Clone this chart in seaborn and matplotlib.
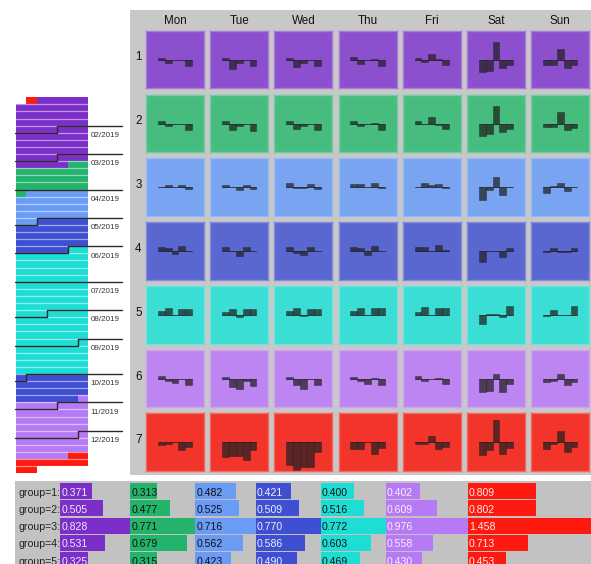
import numpy as np
import pandas as pd
import matplotlib
matplotlib.use("Agg")
import matplotlib.pyplot as plt
from matplotlib.colors import ListedColormap, to_rgb
from matplotlib.patches import Rectangle
import seaborn as sns

# ---------------------------------------------------------------- data
days = ["Mon", "Tue", "Wed", "Thu", "Fri", "Sat", "Sun"]
clusters = [1, 2, 3, 4, 5, 6, 7]
time_groups = ["group=1:", "group=2:", "group=3:", "group=4:", "group=5:"]

# day clusters over 2019: each run starts on the given date
run_starts = ["2019-01-01", "2019-01-02", "2019-03-09", "2019-04-02",
              "2019-05-01", "2019-06-01", "2019-09-30", "2019-10-27",
              "2019-12-21"]
run_clusters = [7, 1, 2, 3, 4, 5, 4, 6, 7]

# deviation of each time group from the cluster profile, per weekday (Mon..Sun)
dev_c1 = [[2, -3.3, -0.3, 0, -6], [2, -9, -3, -0.5, -6.5], [2, -7.5, -3, -0.3, -6.5],
          [2.5, -4, 0, 0.3, -6], [1.5, -2, 5.5, 0.5, -5.5], [-12.5, -11, 17.5, -8.5, -5.5],
          [-5, -5, 11, -8, -5]]
dev_c2 = [[3, -2, 0, 0, -6], [2.5, -6.5, -2, 0, -7.5], [3, -5, -2, 0, -6.5],
          [3, -2, 0, 0.5, -6], [2.5, -0.5, 7, -1, -5], [-12.5, -10, 18, -8.3, -5.7],
          [-3.5, -3.5, 11.5, -6.5, -4.3]]
dev_c3 = [[0, 2.5, 0, 2, -1.5], [2, 0, -3, 2, -2], [4, -0.5, -0.5, 3, -2],
          [3.5, 3, 0, 4, -0.5], [0, 4, 2.5, 3.5, -0.5], [-13, -3, 10, -8, 0],
          [-5.3, 1, 4.7, -4, 0]]
dev_c4 = [[4.5, 3.5, -2.5, 5, 0], [4.5, 0, -4.5, 4.5, 0], [4.5, -1.5, -4, 4.5, 0],
          [4, 3.5, -4, 5, 0], [4, 4.5, 0, 6, 1.5], [-10.5, 0.5, 0, -5.5, 2.7],
          [-1.3, 2.7, -0.5, -0.5, 2.7]]
dev_c5 = [[3.5, 7, 0, 6.3, 6.3], [3, 6, -2.5, 6, 6], [3.5, 7, -1.5, 6, 6],
          [3.5, 7, -0.5, 6.5, 6.5], [3, 8, 0, 7, 7], [-9.5, 1, 0.5, -2.5, 8.5],
          [-1.5, 5, 0, 0, 9]]
dev_c6 = [[2.5, -2, -4, 0, -6], [2, -8, -10, -2, -7], [2, -6, -10, 0, -6],
          [2, -2.5, -5, 0.5, -6], [2.3, -2, -0.3, 0.7, -5.5], [-13.5, -12.5, 4.5, -13, -5],
          [-3, -2, 4.5, -6.5, -3.5]]
dev_c7 = [[-3, -2, 0, -7.7, -4.3], [-14.5, -13.5, -13.5, -18, -8], [-22.7, -27.7, -24.3, -24.3, -10],
          [-6.5, -6.5, 0, -12, -5.5], [-2, -2, 6, -7, -4.5], [-13, -8, 22, -12, -5.5],
          [-7, -2, 11, -9.5, -4.5]]
deviations = [dev_c1, dev_c2, dev_c3, dev_c4, dev_c5, dev_c6, dev_c7]

# mean value of each time group within each cluster
means_c1 = [0.371, 0.505, 0.828, 0.531, 0.325]
means_c2 = [0.313, 0.477, 0.771, 0.679, 0.315]
means_c3 = [0.482, 0.525, 0.716, 0.562, 0.423]
means_c4 = [0.421, 0.509, 0.770, 0.586, 0.490]
means_c5 = [0.400, 0.516, 0.772, 0.603, 0.469]
means_c6 = [0.402, 0.609, 0.976, 0.558, 0.430]
means_c7 = [0.809, 0.802, 1.458, 0.713, 0.453]
group_means = [means_c1, means_c2, means_c3, means_c4, means_c5, means_c6, means_c7]

# ---------------------------------------------------------------- styling
cluster_colors = ["#7B2FC8", "#23B36B", "#6A9BF5", "#3F4FD2", "#1EDDD5", "#B77AF5", "#FF1A0F"]
cell_colors = ["#8C4FCD", "#46BC7E", "#79A4F2", "#5A67D0", "#3ADED4", "#BD85F2", "#F2342A"]
value_text_colors = ["#F0E8FF", "#111111", "#111111", "#F0F0FF", "#111111", "#F8F0FF", "#FFF0F0"]
panel_gray = "#C8C8C8"
mark_color = "#202020"

sns.set_theme(style="white")
plt.rcParams["font.family"] = ["Liberation Sans", "DejaVu Sans"]

W, H = 591, 564
fig = plt.figure(figsize=(W / 100, H / 100), dpi=100)


def frac(left, top, width, height):
    return [left / W, 1 - (top + height) / H, width / W, height / H]


def fig_rect(left, top, width, height, color):
    r = Rectangle((left / W, 1 - (top + height) / H), width / W, height / H,
                  transform=fig.transFigure, facecolor=color, edgecolor="none", zorder=-10)
    fig.add_artist(r)


def lighten(c, k):
    r, g, b = to_rgb(c)
    return (r + (1 - r) * k, g + (1 - g) * k, b + (1 - b) * k)


# ---------------------------------------------------------------- calendar strip
dates = pd.date_range("2019-01-01", "2019-12-31", freq="D")
starts = pd.to_datetime(run_starts)
day_cluster = np.array(run_clusters)[np.searchsorted(starts.values, dates.values, side="right") - 1]
first_wd = dates[0].weekday()
offsets = np.arange(len(dates)) + first_wd
n_weeks = offsets[-1] // 7 + 1
cal = np.full((n_weeks, 7), np.nan)
cal[offsets // 7, offsets % 7] = day_cluster

cal_left, cal_top, cal_w, cal_h = 16, 97.3, 72.5, 376.0
ax_cal = fig.add_axes(frac(cal_left, cal_top, cal_w, cal_h))
sns.heatmap(cal, ax=ax_cal, cmap=ListedColormap(cluster_colors), vmin=0.5, vmax=7.5,
            cbar=False, xticklabels=False, yticklabels=False, mask=np.isnan(cal))
for w in range(1, n_weeks):
    ax_cal.plot([0, 7], [w, w], color="white", alpha=0.5, lw=0.9)

x_unit = 7 / cal_w  # data units per pixel
for m in range(2, 13):
    first = pd.Timestamp(2019, m, 1)
    off = first.dayofyear - 1 + first_wd
    wk, wd = off // 7, off % 7
    right = 7 + (122 - cal_left - cal_w) * x_unit
    if wd > 0:
        xs, ys = [-1 * x_unit, wd, wd, right], [wk + 1, wk + 1, wk, wk]
    else:
        xs, ys = [-1 * x_unit, right], [wk, wk]
    ax_cal.plot(xs, ys, color="#2A2A2A", lw=1.0, clip_on=False)
    ax_cal.text(7 + 2 * x_unit, wk + 1.6, f"{m:02d}/2019", fontsize=5.8,
                color="#333333", va="baseline", ha="left", clip_on=False)

# ---------------------------------------------------------------- cluster x weekday grid
fig_rect(130, 10, 461, 465, panel_gray)
col_left0, col_pitch, cell_w = 146, 64.2, 58
row_top0, row_pitch, cell_h = 30.7, 63.8, 57.6

for j, d in enumerate(days):
    fig.text((col_left0 + j * col_pitch + cell_w / 2) / W, 1 - 24 / H, d,
             ha="center", va="baseline", fontsize=8.4, color="#111111")

for i, c in enumerate(clusters):
    top = row_top0 + i * row_pitch
    fig.text(138.3 / W, 1 - (top + cell_h / 2 + 1) / H, str(c),
             ha="center", va="baseline", fontsize=8.4, color="#111111")
    for j in range(len(days)):
        ax = fig.add_axes(frac(col_left0 + j * col_pitch, top, cell_w, cell_h))
        vals = deviations[i][j]
        sns.barplot(x=list(range(len(vals))), y=vals, ax=ax, color=mark_color,
                    saturation=1, width=1.0, alpha=0.72, errorbar=None,
                    edgecolor=mark_color, linewidth=0.4)
        ax.plot([-0.5, len(vals) - 0.5], [0, 0], color=mark_color, alpha=0.6, lw=0.7)
        ax.set_facecolor(cell_colors[i])
        ax.set_xlim(-2.21, 6.21)
        ax.set_ylim(-28.6, 29.0)
        ax.set_xticks([])
        ax.set_yticks([])
        ax.set_xlabel("")
        ax.set_ylabel("")
        for s in ax.spines.values():
            s.set_visible(True)
            s.set_color(lighten(cell_colors[i], 0.25))
            s.set_linewidth(1.0)

# ---------------------------------------------------------------- group means panel
fig_rect(15, 481, 576, 90, "#C2C2C2")
bar_x0 = 60.3
col_max = [max(v) for v in group_means]
px_per_unit = (W - bar_x0) / sum(col_max)
band_top, band_pitch = 482.6, 17.2
cum = np.concatenate([[0], np.cumsum(col_max)[:-1]])

for k, vals in enumerate(group_means):
    ax = fig.add_axes(frac(bar_x0 + cum[k] * px_per_unit, band_top,
                           col_max[k] * px_per_unit, band_pitch * len(time_groups)))
    sns.barplot(x=vals, y=time_groups, orient="h", ax=ax, color=cluster_colors[k],
                saturation=1, width=0.92, errorbar=None, edgecolor="none", linewidth=0)
    ax.set_xlim(0, col_max[k])
    ax.set_ylim(len(time_groups) - 0.5, -0.5)
    ax.set_facecolor("none")
    ax.set_xticks([])
    ax.set_yticks([])
    ax.set_xlabel("")
    ax.set_ylabel("")
    for s in ax.spines.values():
        s.set_visible(False)
    for r, v in enumerate(vals):
        ax.text(1 / px_per_unit, r + 0.27, f"{v:.3f}", fontsize=7.6,
                color=value_text_colors[k], va="baseline", ha="left", clip_on=False)

for r, g in enumerate(time_groups):
    fig.text(bar_x0 / W, 1 - (band_top + band_pitch * (r + 0.5) + 4.6) / H, g,
             ha="right", va="baseline", fontsize=7.6, color="#222222")

fig.savefig("out.png", dpi=100)
